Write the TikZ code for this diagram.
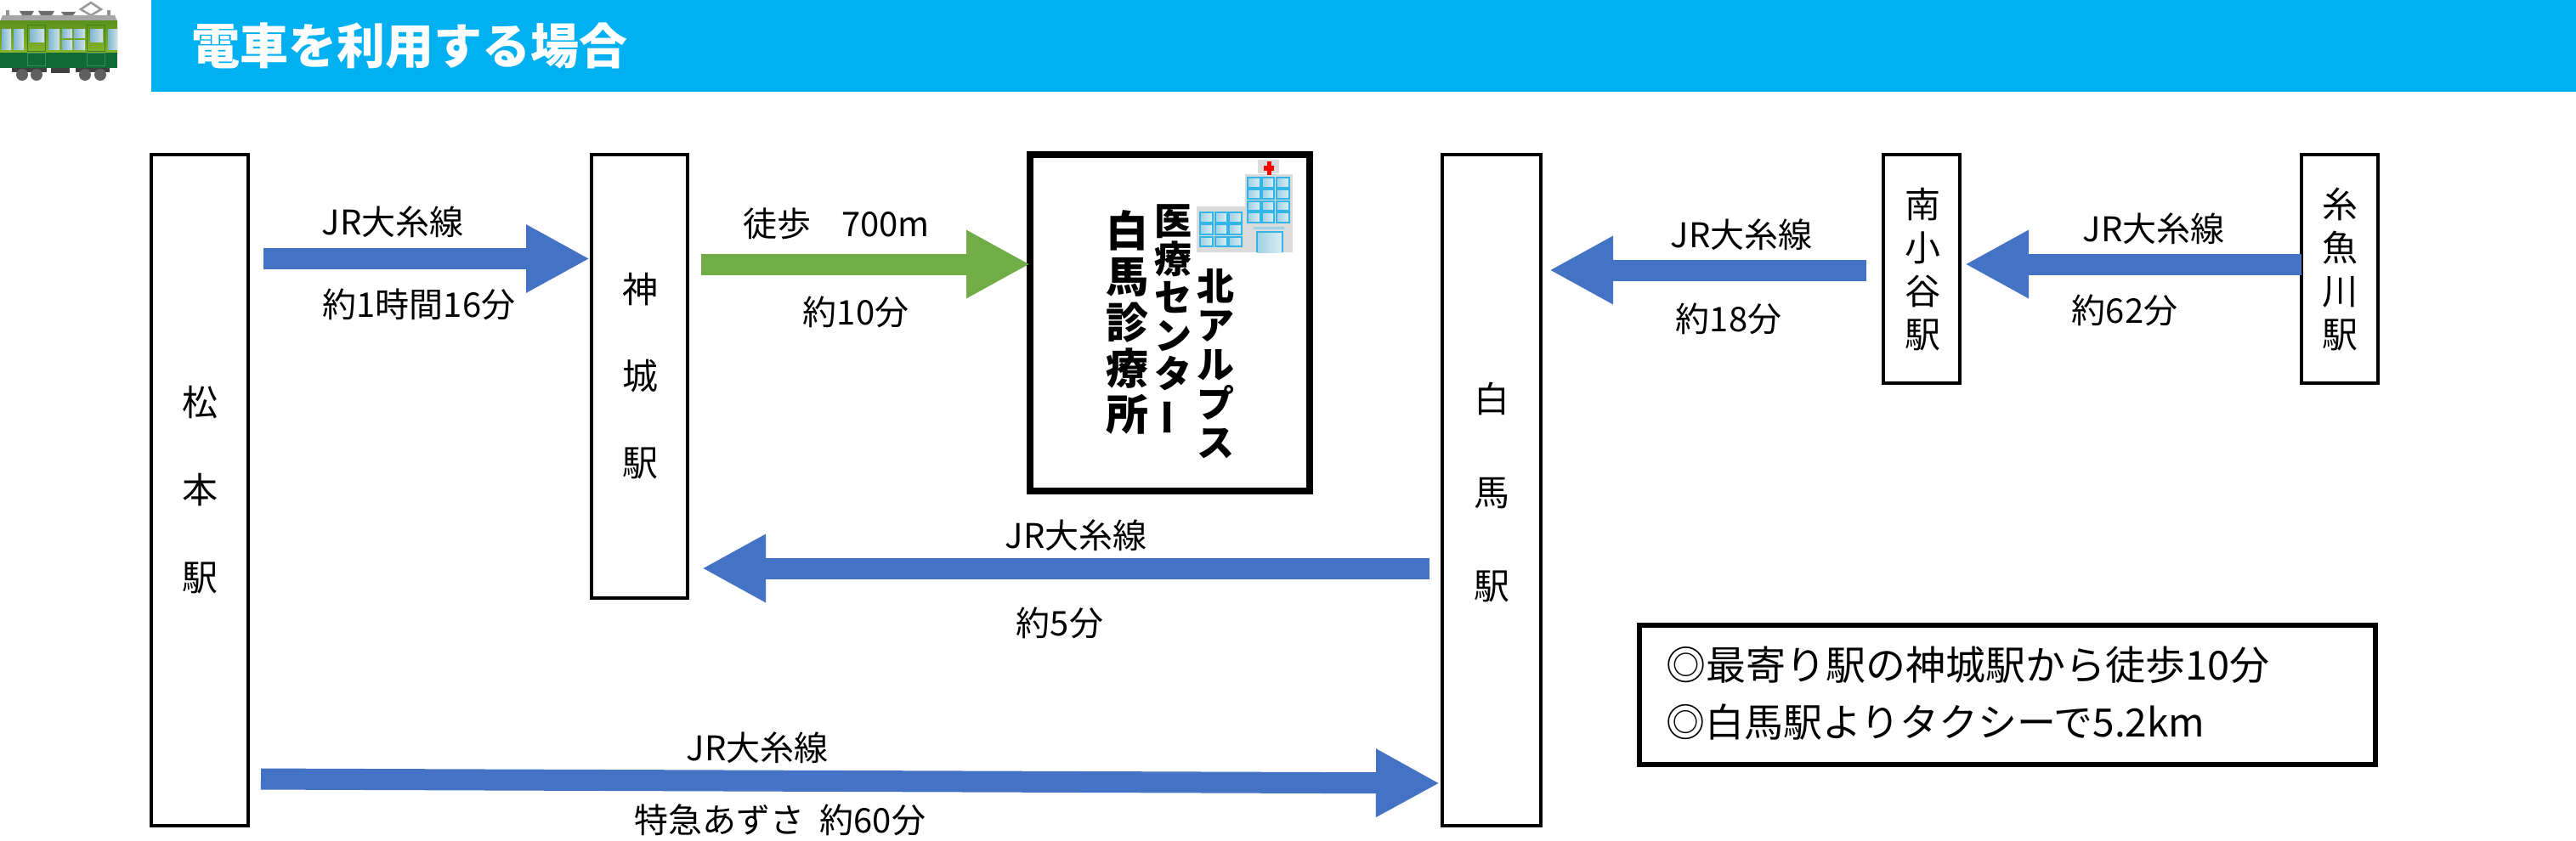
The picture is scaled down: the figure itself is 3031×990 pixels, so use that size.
\documentclass[tikz,border=0pt]{standalone}
\usepackage{fontspec}
\usetikzlibrary{arrows.meta}
\setmainfont{Noto Sans CJK JP}
\definecolor{hdr}{HTML}{00B0F0}
\definecolor{arblue}{HTML}{4472C4}
\definecolor{argreen}{HTML}{70AD47}
\definecolor{trtop}{HTML}{5C931E}
\definecolor{trmid}{HTML}{86B32A}
\definecolor{trlow}{HTML}{0E6B35}
\definecolor{trwinl}{HTML}{7FB6D2}
\definecolor{trwinr}{HTML}{CFE2E6}
\definecolor{trline}{HTML}{3F7F1A}
\definecolor{hwinl}{HTML}{9ED0E4}
\definecolor{hwinr}{HTML}{DCEEF3}
\definecolor{hwinb}{HTML}{33B5E8}
\tikzset{
 stn/.style={draw=black,line width=4pt,fill=white,outer sep=0pt,inner sep=0pt,align=center},
 lab/.style={inner sep=0pt,font=\fontsize{40}{44}\selectfont},
 barrow/.style={draw=arblue,line width=25pt,-{Triangle[length=75pt,width=75pt]}},
 garrow/.style={draw=argreen,line width=25pt,-{Triangle[length=75pt,width=75pt]}},
 twin/.style={left color=trwinl,right color=trwinr,draw=none},
 hwin/.style={left color=hwinl,right color=hwinr,draw=hwinb,line width=2pt},
 vtxt/.style={inner sep=0pt,align=center,text=black}
}
\newcommand{\chou}{\rotatebox[origin=c]{90}{\scalebox{-1}[1]{ー}}}
\begin{document}
\begin{tikzpicture}[x=1pt,y=-1pt]
\useasboundingbox (0,0) rectangle (3031,990);
% header
\fill[hdr] (178,0) rectangle (3031,108);
\node[inner sep=0pt,text=white,font=\fontsize{57}{60}\selectfont\bfseries] (title) at (482,54) {電車を利用する場合};
% train
\fill[gray!85] (7,12) rectangle (11,19);
\fill[gray!85] (126,12) rectangle (130,19);
\fill[gray!85!black] (23,13) -- (40,13) -- (37,18) -- (26,18) -- cycle;
\fill[gray!85!black] (45,13) -- (64,13) -- (61,18) -- (48,18) -- cycle;
\fill[gray!85!black] (72,14) -- (89,14) -- (86,18) -- (75,18) -- cycle;
\draw[gray!80,line width=2.5pt] (107,3) -- (119,11) -- (107,18) -- (95,11) -- cycle;
\fill[gray!70] (0,25) -- (3,18) -- (135,18) -- (138,25) -- cycle;
\shade[top color=trtop,bottom color=trmid] (0,25) rectangle (138,62);
\fill[trlow] (0,62) rectangle (138,80);
\fill[twin] (2,35) rectangle (13,59);
\fill[twin] (16,35) rectangle (28,47);
\fill[twin] (16,48) rectangle (28,59);
\fill[twin] (57,35) rectangle (70,59);
\fill[twin] (73,35) rectangle (85,45);
\fill[twin] (87,35) rectangle (100,45);
\fill[twin] (73,48) rectangle (85,59);
\fill[twin] (87,48) rectangle (100,59);
\fill[twin] (127,35) rectangle (138,59);
\draw[trline,line width=1pt] (32,30) rectangle (53,61);
\fill[twin] (35,35) rectangle (52,50);
\draw[trline,line width=1pt] (102,30) rectangle (123,61);
\fill[twin] (106,35) rectangle (121,50);
\draw[trlow!80!white,line width=.6pt] (32,62) rectangle (53,77);
\draw[trlow!80!white,line width=.6pt] (102,62) rectangle (123,77);
\fill[black!75] (14,80) rectangle (55,85);
\fill[black!75] (89,80) rectangle (129,85);
\fill[black!75] (60,80) rectangle (82,86);
\foreach \x in {26,43,100,118}{\fill[gray!75!black] (\x,88) circle (7);}
% station boxes
\node[stn,minimum width=114,minimum height=790] (mat) at (235,577) {};
\node[vtxt,font=\fontsize{42}{103}\selectfont] (matt) at (235,577) {松\\本\\駅};
\node[stn,minimum width=113,minimum height=522] (kam) at (752.5,443) {};
\node[vtxt,font=\fontsize{42}{102}\selectfont] (kamt) at (753,443) {神\\城\\駅};
\node[stn,minimum width=116,minimum height=790] (hak) at (1755,577) {};
\node[vtxt,font=\fontsize{42}{110}\selectfont] (hakt) at (1755,580) {白\\馬\\駅};
\node[stn,minimum width=90,minimum height=269] (min) at (2261,316.5) {};
\node[vtxt,font=\fontsize{42}{51}\selectfont] (mint) at (2262,317) {南\\小\\谷\\駅};
\node[stn,minimum width=90,minimum height=269] (ito) at (2753,316.5) {};
\node[vtxt,font=\fontsize{42}{51}\selectfont] (itot) at (2753,317) {糸\\魚\\川\\駅};
% clinic
\node[draw=black,line width=8pt,fill=white,outer sep=0pt,minimum width=329,minimum height=396] (clinic) at (1376.5,380) {};
\node[vtxt,font=\fontsize{44}{46}\selectfont\bfseries] (c1) at (1430,428) {北\\ア\\ル\\プ\\ス};
\node[vtxt,font=\fontsize{44}{45}\selectfont\bfseries] (c2) at (1380,377) {医\\療\\セ\\ン\\タ\\\chou};
\node[vtxt,font=\fontsize{50}{54}\selectfont\bfseries] (c3) at (1326,379) {白\\馬\\診\\療\\所};
% hospital icon
\fill[gray!28] (1408,243) rectangle (1465,297);
\fill[gray!28] (1465,205) rectangle (1521,297);
\fill[gray!28] (1480,188) rectangle (1505,204);
\fill[red] (1491,190) rectangle (1496,206);
\fill[red] (1487,195) rectangle (1499,201);
\foreach \a/\b in {1468/1483,1485/1499,1502/1517}{\foreach \c/\d in {209/221,223/234,237/248,250/262}{\draw[hwin] (\a,\c) rectangle (\b,\d);}}
\foreach \a/\b in {1412/1427,1430/1444,1446/1461}{\foreach \c/\d in {250/262,264/276,279/290}{\draw[hwin] (\a,\c) rectangle (\b,\d);}}
\fill[hwinl] (1475,267) rectangle (1511,270);
\draw[hwin] (1479,297) -- (1479,273) -- (1509,273) -- (1509,297);
% note
\node[draw=black,line width=6pt,fill=white,outer sep=0pt,minimum width=866,minimum height=164] (note) at (2362,818) {};
\node[inner sep=0pt,anchor=west,align=left,font=\fontsize{47}{67}\selectfont] (notet) at (1960,816) {◎最寄り駅の神城駅から徒歩10分\\{\fontsize{46}{67}\selectfont ◎白馬駅よりタクシーで5.2km}};
% arrows
\draw[barrow,shorten <=18pt,shorten >=2pt] (mat.east |- 0,304.5) -- (kam.west |- 0,304.5);
\draw[garrow,shorten <=16pt] (kam.east |- 0,311) -- (clinic.west |- 0,311);
\draw[barrow,shorten <=15pt,shorten >=17pt] (hak.west |- 0,669) -- (kam.east |- 0,669);
\draw[barrow,shorten <=15pt,shorten >=3pt] (mat.east |- 0,917) -- (hak.west |- 0,922);
\draw[barrow,shorten <=20pt,shorten >=10pt] (min.west |- 0,318) -- (hak.east |- 0,318);
\draw[barrow,shorten <=0pt,shorten >=6pt] (ito.west |- 0,311) -- (min.east |- 0,311);
% labels
\node[lab] (l1) at (462,261) {JR大糸線};
\node[lab] (l2) at (493,358) {約1時間16分};
\node[lab] (l3) at (984,263) {徒歩\ \ \ \ 700m};
\node[lab] (l4) at (1007,367) {約10分};
\node[lab] (l5) at (2049,276) {JR大糸線};
\node[lab] (l6) at (2034,375) {約18分};
\node[lab] (l7) at (2534,269) {JR大糸線};
\node[lab] (l8) at (2500,365) {約62分};
\node[lab] (l9) at (1266,630) {JR大糸線};
\node[lab] (l10) at (1247,733) {約5分};
\node[lab] (l11) at (891,880) {JR大糸線};
\node[lab] (l12) at (918,965) {特急あずさ\ \ 約60分};
\end{tikzpicture}
\end{document}
